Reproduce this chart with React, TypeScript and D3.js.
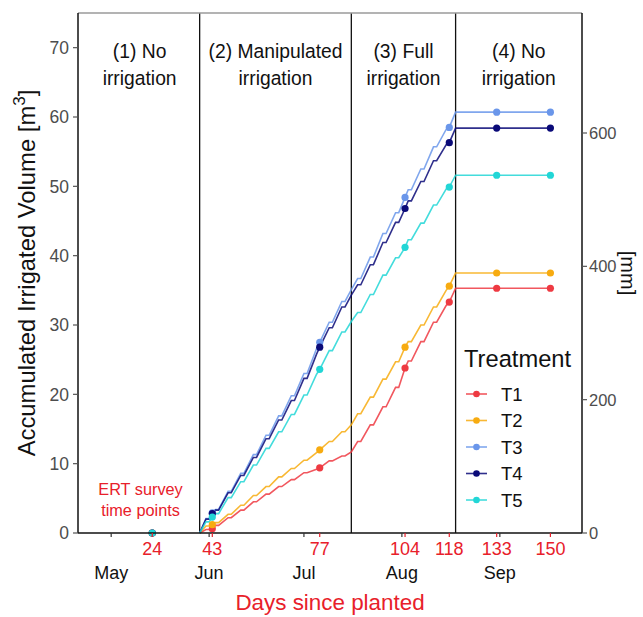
import React from "react";
import * as d3 from "d3";

const lineDays = [39,41,42,43,44,45,48,49,52,53,56,57,60,61,64,65,68,69,72,73,76,77,80,81,84,85,87,89,90,93,94,97,98,101,102,104,105,106,109,110,113,114,117,118,120,133,150];

const t1 = [0,0.5,0.5,0.6,1.1,1.1,2.2,2.2,3.3,3.3,4.5,4.5,5.6,5.6,6.7,6.7,7.7,7.7,8.7,8.7,9.2,9.4,10.4,10.4,11.1,11.1,11.7,13.2,13.2,15.6,15.6,18.2,18.2,21.0,21.0,23.8,24.8,24.8,27.6,27.6,30.4,30.4,32.8,33.3,35.3,35.3,35.3];
const t2 = [0,1.0,1.0,1.2,1.5,1.5,2.7,2.7,4.0,4.0,5.4,5.4,6.7,6.7,8.1,8.1,9.3,9.3,10.5,10.5,11.6,12.0,13.2,13.2,14.6,14.6,15.6,17.2,17.2,19.6,19.6,22.2,22.2,24.7,24.7,26.8,27.6,27.6,30.0,30.0,32.6,32.6,35.0,35.6,37.5,37.5,37.5];
const t3 = [0,2.1,2.1,2.9,3.4,3.4,6.0,6.0,8.6,8.6,11.3,11.3,14.1,14.1,16.9,16.9,19.8,19.8,23.0,23.0,26.6,27.5,30.4,30.4,33.4,33.4,35.1,36.7,36.7,39.8,39.8,43.2,43.2,46.2,46.2,48.4,49.5,49.5,52.5,52.5,55.7,55.7,58.2,58.5,60.7,60.7,60.7];
const t4 = [0,2.0,2.0,2.8,3.3,3.3,5.8,5.8,8.3,8.3,10.9,10.9,13.6,13.6,16.3,16.3,19.1,19.1,22.3,22.3,25.8,26.8,29.6,29.6,32.6,32.6,34.3,35.8,35.8,38.7,38.7,41.9,41.9,44.8,44.8,46.8,47.9,47.9,50.7,50.7,53.7,53.7,56.0,56.3,58.4,58.4,58.4];
const t5 = [0,1.6,1.6,2.3,2.8,2.8,5.1,5.1,7.4,7.4,9.8,9.8,12.2,12.2,14.6,14.6,17.1,17.1,19.9,19.9,22.9,23.6,26.3,26.3,29.0,29.0,30.5,31.8,31.8,34.4,34.4,37.2,37.2,39.7,39.7,41.2,42.3,42.3,44.7,44.7,47.3,47.3,49.6,49.9,51.6,51.6,51.6];

const surveyDays = [24,43,77,104,118,133,150];
const p1 = [0,0.6,9.4,23.8,33.3,35.3,35.3];
const p2 = [0,1.2,12.0,26.8,35.6,37.5,37.5];
const p3 = [0,2.9,27.5,48.4,58.5,60.7,60.7];
const p4 = [0,2.8,26.8,46.8,56.3,58.4,58.4];
const p5 = [0,2.3,23.6,41.2,49.9,51.6,51.6];

const seriesNames = ["T1","T2","T3","T4","T5"];
const seriesColors = ["#ee3a42","#f7ab10","#6a96ea","#0a0a78","#22d6d6"];
const lineValues = [t1,t2,t3,t4,t5];
const pointValues = [p1,p2,p3,p4,p5];

const yTicks = [0,10,20,30,40,50,60,70];
const mmTicks = [0,200,400,600];
const mmPerM3 = 10.4;
const monthLabels = ["May","Jun","Jul","Aug","Sep"];
const monthDays = [11,42,72,103,134];
const phaseBounds = [39,87,120];
const phaseLabels = [["(1) No","irrigation"],["(2) Manipulated","irrigation"],["(3) Full","irrigation"],["(4) No","irrigation"]];
const phaseCenters = [20,63,103.5,140];

const W = 643, H = 617;
const L = 78, R = 582, T = 13, B = 533;
const FONT = "'Liberation Sans', Arial, Helvetica, sans-serif";

export default function App() {
  const x = d3.scaleLinear().domain([0.5, 160]).range([L, R]);
  const y = d3.scaleLinear().domain([0, 75]).range([B, T]);
  const yMm = d3.scaleLinear().domain([0, 75 * mmPerM3]).range([B, T]);
  const line = d3.line<number>().x((_, i) => x(lineDays[i])).y((v) => y(v));

  return (
    <svg width={W} height={H} style={{ position: "absolute", left: 0, top: 0, background: "#fff" }} fontFamily={FONT}>
      <rect width={W} height={H} fill="#fff" />
      {phaseBounds.map((d, i) => (
        <line key={"pb" + i} x1={x(d)} x2={x(d)} y1={T} y2={B} stroke="#111" strokeWidth={1.3} />
      ))}
      {phaseLabels.map((lab, i) => (
        <text key={"pl" + i} x={x(phaseCenters[i])} y={58} textAnchor="middle" fontSize={19.3} fill="#111">
          <tspan x={x(phaseCenters[i])} dy={0}>{lab[0]}</tspan>
          <tspan x={x(phaseCenters[i])} dy={27}>{lab[1]}</tspan>
        </text>
      ))}
      <text x={140.5} y={495} textAnchor="middle" fontSize={16.3} fill="#e8202a">
        <tspan x={140.5} dy={0}>ERT survey</tspan>
        <tspan x={140.5} dy={20.5}>time points</tspan>
      </text>
      {lineValues.map((vals, s) => (
        <path key={"ln" + s} d={line(vals) || ""} fill="none" stroke={seriesColors[s]} strokeWidth={1.6} strokeOpacity={0.85} />
      ))}
      {pointValues.map((vals, s) =>
        vals.map((v, i) => (
          <circle key={"pt" + s + "-" + i} cx={x(surveyDays[i])} cy={y(v)} r={3.6} fill={seriesColors[s]} />
        ))
      )}
      <line x1={L} x2={R} y1={T} y2={T} stroke="#9a9a9a" strokeWidth={1.5} />
      <line x1={L} x2={L} y1={T} y2={B} stroke="#111" strokeWidth={1.5} />
      <line x1={R} x2={R} y1={T} y2={B} stroke="#111" strokeWidth={1.5} />
      <line x1={L} x2={R} y1={B} y2={B} stroke="#111" strokeWidth={1.5} />
      {yTicks.map((t) => (
        <g key={"yt" + t}>
          <line x1={L - 5} x2={L} y1={y(t)} y2={y(t)} stroke="#555" strokeWidth={1.2} />
          <text x={L - 9} y={y(t)} dy="0.36em" textAnchor="end" fontSize={17.5} fill="#4d4d4d">{t}</text>
        </g>
      ))}
      <text transform={`translate(35,${(T + B) / 2}) rotate(-90)`} textAnchor="middle" fontSize={23.8} fill="#111">
        Accumulated Irrigated Volume [m<tspan dy={-10} fontSize={17}>3</tspan><tspan dy={10}>]</tspan>
      </text>
      {mmTicks.map((t) => (
        <g key={"mt" + t}>
          <line x1={R} x2={R + 5} y1={yMm(t)} y2={yMm(t)} stroke="#555" strokeWidth={1.2} />
          <text x={R + 7} y={yMm(t)} dy="0.36em" textAnchor="start" fontSize={16.5} fill="#4d4d4d">{t}</text>
        </g>
      ))}
      <text transform={`translate(621,${(T + B) / 2}) rotate(90)`} textAnchor="middle" fontSize={20} fill="#111">[mm]</text>
      {surveyDays.map((d) => (
        <g key={"xd" + d}>
          <line x1={x(d)} x2={x(d)} y1={B} y2={B + 4} stroke="#e8202a" strokeWidth={1.2} />
          <text x={x(d)} y={555} textAnchor="middle" fontSize={18} fill="#e8202a">{d}</text>
        </g>
      ))}
      {monthDays.map((d, i) => (
        <g key={"xm" + i}>
          <line x1={x(d)} x2={x(d)} y1={B} y2={B + 4} stroke="#333" strokeWidth={1.2} />
          <text x={x(d)} y={579} textAnchor="middle" fontSize={18} fill="#111">{monthLabels[i]}</text>
        </g>
      ))}
      <text x={(L + R) / 2} y={610} textAnchor="middle" fontSize={22.4} fill="#e8202a">Days since planted</text>
      <text x={464} y={367} fontSize={23.7} fill="#111">Treatment</text>
      {seriesNames.map((n, i) => {
        const ly = 394 + i * 26.5;
        return (
          <g key={"lg" + n}>
            <line x1={466} x2={487} y1={ly} y2={ly} stroke={seriesColors[i]} strokeWidth={1.6} strokeOpacity={0.85} />
            <circle cx={476.5} cy={ly} r={3.3} fill={seriesColors[i]} />
            <text x={501} y={ly} dy="0.36em" fontSize={18.5} fill="#111">{n}</text>
          </g>
        );
      })}
    </svg>
  );
}
